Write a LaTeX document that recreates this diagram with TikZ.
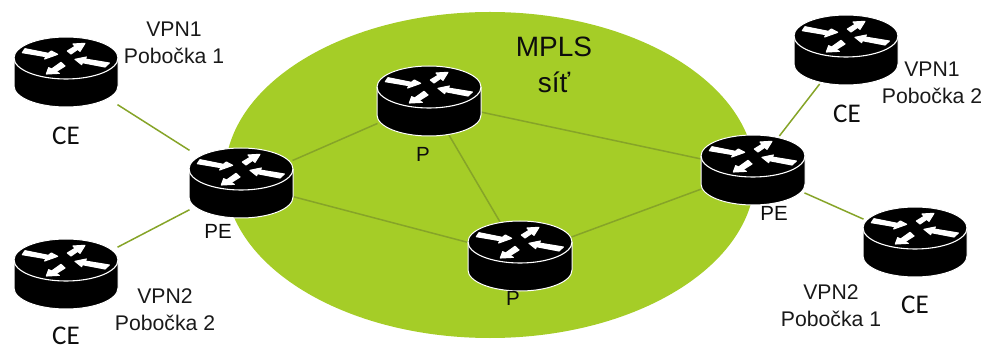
\documentclass[tikz,border=0pt]{standalone}
\usepackage{fontspec}
\setmainfont{Liberation Sans}
\newfontfamily\calfont{Carlito}
\definecolor{cloudgreen}{HTML}{A5CD27}
\definecolor{linkgreen}{HTML}{86A428}
\tikzset{
  x=1pt,y=-1pt,
  routerbox/.style={rectangle,minimum width=103pt,minimum height=68pt,inner sep=0pt,outer sep=0pt},
  linkline/.style={draw=linkgreen,line width=1.5pt},
  arrowfill/.style={fill=white,draw=white,line width=1.1pt,line join=round},
  sitelabel/.style={inner sep=0pt,align=center,font=\fontsize{21.2}{27}\selectfont,text=black!90},
  celabel/.style={inner sep=0pt,font=\calfont\fontsize{27}{30}\selectfont,text=black!95},
  pelabel/.style={inner sep=0pt,font=\fontsize{20.5}{24}\selectfont,text=black!95},
  mplslabel/.style={inner sep=0pt,align=center,font=\fontsize{28}{36}\selectfont,text=black!95},
  router/.pic={
    \path[fill=black,draw=white,line width=1pt]
      (-52,-14) .. controls (-52,-25.6) and (-28.7,-35) .. (0,-35)
      .. controls (28.7,-35) and (52,-25.6) .. (52,-14)
      -- (52,14)
      .. controls (52,25.6) and (28.7,35) .. (0,35)
      .. controls (-28.7,35) and (-52,25.6) .. (-52,14) -- cycle;
    \draw[white,line width=1.1pt] (-52,-14) .. controls (-52,-2.4) and (-28.7,7) .. (0,7)
      .. controls (28.7,7) and (52,-2.4) .. (52,-14);
    \begin{scope}[scale=0.3333,shift={(-213,-160)}]
      \path[arrowfill] (90,90)--(160,104)--(169,97)--(188,107)--(149,121)--(153,114)--(82,102)--cycle;
      \path[arrowfill] (217,97)--(240,83)--(234,76)--(270,74)--(255,98)--(248,92)--(228,106)--cycle;
      \path[arrowfill] (240,122)--(274,115)--(270,121)--(343,133)--(330,145)--(262,132)--(260,138)--cycle;
      \path[arrowfill] (154,166)--(161,147)--(170,151)--(198,131)--(210,142)--(183,159)--(193,164)--cycle;
    \end{scope}
  }
}
\begin{document}
\begin{tikzpicture}
\useasboundingbox (0,0) rectangle (987,347);
\fill[cloudgreen] (490,175) ellipse[x radius=265,y radius=163];
\node[routerbox] (ceA) at (66,72) {};
\node[routerbox] (ceB) at (66,274) {};
\node[routerbox] (peL) at (241,183) {};
\node[routerbox] (pT) at (429,101) {};
\node[routerbox] (pB) at (520,256) {};
\node[routerbox] (peR) at (753,170) {};
\node[routerbox] (ceC) at (846,50) {};
\node[routerbox] (ceD) at (915,242) {};
\path[linkline] (ceA) -- (peL);
\path[linkline] (ceB) -- (peL);
\path[linkline] (peL) -- (pT);
\path[linkline] (peL) -- (pB);
\path[linkline] (pT) -- (pB);
\path[linkline] (pT) -- (peR);
\path[linkline] (pB) -- (peR);
\path[linkline] (peR) -- (ceC);
\path[linkline] (peR) -- (ceD);
\pic at (ceA) {router};
\pic at (ceB) {router};
\pic at (peL) {router};
\pic at (pT) {router};
\pic at (pB) {router};
\pic at (peR) {router};
\pic at (ceC) {router};
\pic at (ceD) {router};
\node[sitelabel] (s1) at (174,43) {VPN1\\Pobočka 1};
\node[sitelabel] (s2) at (165,310) {VPN2\\Pobočka 2};
\node[sitelabel] (s3) at (932,83) {VPN1\\Pobočka 2};
\node[sitelabel] (s4) at (831,306) {VPN2\\Pobočka 1};
\node[celabel] (c1) at (66,136) {CE};
\node[celabel] (c2) at (66,336) {CE};
\node[celabel] (c3) at (847,114) {CE};
\node[celabel] (c4) at (915,305) {CE};
\node[pelabel] (l1) at (218,231) {PE};
\node[pelabel] (l2) at (774,213) {PE};
\node[pelabel] (l3) at (423,154) {P};
\node[pelabel] (l4) at (513,298) {P};
\node[mplslabel] (m) at (554,65) {MPLS\\síť};
\end{tikzpicture}
\end{document}
